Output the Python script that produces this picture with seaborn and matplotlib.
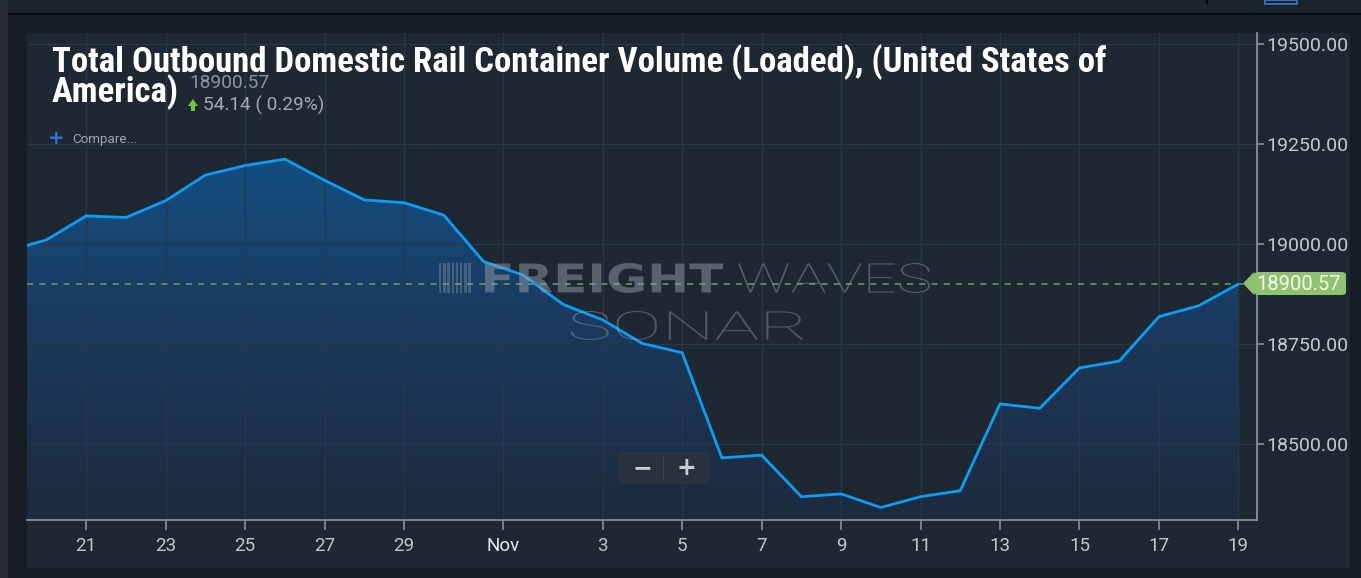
import pandas as pd
import numpy as np
import matplotlib
matplotlib.use("Agg")
import matplotlib.pyplot as plt
import matplotlib.dates as mdates
from matplotlib.colors import LinearSegmentedColormap
from matplotlib.patches import Rectangle, FancyBboxPatch, Polygon, PathPatch
from matplotlib.textpath import TextPath
from matplotlib.font_manager import FontProperties
from matplotlib.transforms import Affine2D
import seaborn as sns

# data (daily, Oct 19 - Nov 19)
dates = pd.date_range("2019-10-19", "2019-11-19", freq="D")
values = [18983, 19011, 19071, 19067, 19109, 19173, 19197, 19213, 19160, 19111,
          19104, 19073, 18957, 18923, 18850, 18811, 18752, 18729, 18466, 18473,
          18369, 18376, 18342, 18369, 18384, 18601, 18590, 18691, 18708, 18819,
          18846.43, 18900.57]
last_value = 18900.57
change = 54.14
change_pct = 0.29

y_ticks = [18500, 18750, 19000, 19250, 19500]
x_tick_dates = pd.to_datetime(["2019-10-21", "2019-10-23", "2019-10-25", "2019-10-27",
                               "2019-10-29", "2019-10-31 12:00", "2019-11-03", "2019-11-05",
                               "2019-11-07", "2019-11-09", "2019-11-11", "2019-11-13",
                               "2019-11-15", "2019-11-17", "2019-11-19"], format="ISO8601")
x_tick_labels = ["21", "23", "25", "27", "29", "Nov", "3", "5", "7", "9", "11", "13",
                 "15", "17", "19"]
title1 = "Total Outbound Domestic Rail Container Volume (Loaded), (United States of"
title2 = "America)"

df = pd.DataFrame({"date": dates, "value": values})

sns.set_style("dark")
plt.rcParams["font.family"] = ["Roboto", "DejaVu Sans"]

W, H = 1361, 578
fig = plt.figure(figsize=(W / 100, H / 100), dpi=100, facecolor="#161d24")


def fx(px):
    return px / W


def fy(py):
    return 1 - py / H


def box(x0, y0, x1, y1, color, z=0, fill=True):
    fig.add_artist(Rectangle((fx(x0), fy(y1)), fx(x1) - fx(x0), fy(y0) - fy(y1),
                             transform=fig.transFigure, facecolor=color if fill else "none",
                             edgecolor="none" if fill else color, zorder=z,
                             lw=0 if fill else 1.2))


# page chrome
box(0, 0, W, 13, "#1a222a")
box(0, 13, W, 14.5, "#05080a")
box(1206, 0, 1207.5, 4, "#05080a", z=1)
box(1265, 0, 1297, 3.5, "#3a7bd5", z=1, fill=False)
box(0, 0, 8, H, "#262b31")
box(27, 33, 1350, 568, "#1e2833")

ax = fig.add_axes([fx(27), fy(520), fx(1257) - fx(27), fy(33) - fy(520)])
ax.set_facecolor("#1e2833")

xlo = pd.Timestamp("2019-10-19 12:15")
xhi = pd.Timestamp("2019-11-19 11:15")
ylo, yhi = 18310.75, 19528.25

# gradient area under the line
poly = ax.fill_between(df["date"], df["value"], ylo - 100, facecolor="none", lw=0)
cmap = LinearSegmentedColormap.from_list(
    "fill", [(0.0, "#1d2a3c"), (0.45, "#1a3c62"), (0.66, "#154a78"), (1.0, "#0f5a93")])
grad = np.linspace(0, 1, 256).reshape(-1, 1)
im = ax.imshow(grad, extent=[mdates.date2num(xlo), mdates.date2num(xhi), ylo, yhi],
               origin="lower", aspect="auto", cmap=cmap, zorder=1)
im.set_clip_path(poly.get_paths()[0], transform=ax.transData)

sns.lineplot(data=df, x="date", y="value", ax=ax, color="#0b9ef6", linewidth=2.0,
             zorder=4)
ax.axhline(last_value, color="#70a05a", lw=1.1, ls=(0, (4, 4)), zorder=3)

ax.set_xlim(xlo, xhi)
ax.set_ylim(ylo, yhi)
ax.set_xlabel("")
ax.set_ylabel("")

ax.set_xticks(x_tick_dates)
ax.set_xticklabels(x_tick_labels)
ax.set_yticks(y_ticks)
ax.set_yticklabels([f"{v:.2f}" for v in y_ticks])
ax.yaxis.tick_right()
ax.grid(True, color="#283846", lw=0.9)
ax.set_axisbelow(False)
for gl in ax.get_xgridlines() + ax.get_ygridlines():
    gl.set_zorder(2)

for s in ["top", "left"]:
    ax.spines[s].set_visible(False)
for s in ["right", "bottom"]:
    ax.spines[s].set_visible(True)
    ax.spines[s].set_color("#8b9096")
    ax.spines[s].set_linewidth(1.3)
    ax.spines[s].set_zorder(5)

ax.tick_params(axis="x", direction="out", length=7, width=1.2, color="#8b9096",
               labelcolor="#c3c7cb", labelsize=13.5, pad=5, bottom=True)
ax.tick_params(axis="y", direction="out", length=5, width=1.2, color="#8b9096",
               labelcolor="#c5c9cd", labelsize=14, pad=1.5, right=True, left=False)
for lab in ax.get_xticklabels():
    if lab.get_text() == "Nov":
        lab.set_color("#e8ebee")

# watermark: each word stretched into its box
wm_color = "#9aa4ad"


def fit_word(word, x0, y0, x1, y1, prop, alpha):
    tp = TextPath((0, 0), word, size=100, prop=prop)
    ext = tp.get_extents()
    tr = (Affine2D().translate(-ext.x0, -ext.y0)
          .scale((x1 - x0) / ext.width, (y1 - y0) / ext.height)
          .translate(x0, H - y1))
    fig.add_artist(PathPatch(tp, transform=tr, facecolor=wm_color, edgecolor="none",
                             alpha=alpha, zorder=6))


fit_word("FREIGHT", 485, 263, 723, 293, FontProperties(family="DejaVu Sans", weight="bold"), 0.47)
fit_word("WAVES", 738, 263, 930, 293, FontProperties(family="Roboto", weight="light"), 0.45)
fit_word("SONAR", 571, 311, 803, 340, FontProperties(family="Roboto", weight="light"), 0.42)
for i in range(8):
    bx = 439 + i * 4.2
    fig.add_artist(Rectangle((fx(bx), fy(293)), fx(2.4), fy(263) - fy(293),
                             transform=fig.transFigure, color=wm_color, alpha=0.35,
                             lw=0, zorder=6))

# zoom buttons
fig.add_artist(FancyBboxPatch((fx(622), fy(482)), fx(84), fy(454) - fy(482),
                              boxstyle="round,pad=0.002,rounding_size=0.004",
                              transform=fig.transFigure, facecolor="#27323d",
                              edgecolor="#2d3843", lw=1, zorder=7))
fig.add_artist(Rectangle((fx(663), fy(480)), fx(1), fy(456) - fy(480),
                         transform=fig.transFigure, color="#3a4652", lw=0, zorder=8))
fig.text(fx(642), fy(468), "\u2212", fontsize=17, weight="bold", color="#c9cdd1",
         ha="center", va="center", zorder=8, family=["DejaVu Sans"])
fig.text(fx(686), fy(468), "+", fontsize=17, weight="bold", color="#c9cdd1",
         ha="center", va="center", zorder=8, family=["DejaVu Sans"])

# last value label
fig.add_artist(Polygon([[fx(1243), fy(283.5)], [fx(1254), fy(272)], [fx(1254), fy(295)]],
                       closed=True, transform=fig.transFigure, color="#8dc26f",
                       lw=0, zorder=8))
fig.add_artist(FancyBboxPatch((fx(1254), fy(295)), fx(92), fy(272) - fy(295),
                              boxstyle="round,pad=0.0,rounding_size=0.004",
                              transform=fig.transFigure, facecolor="#8dc26f",
                              edgecolor="none", zorder=8))
fig.text(fx(1299), fy(284), f"{last_value:.2f}", fontsize=14.5, color="#f4f8f0",
         ha="center", va="center", zorder=9)

# title block
tfam = ["Roboto Condensed", "Liberation Sans Narrow", "Roboto"]
t1 = fig.text(fx(52), fy(72), title1, fontsize=25, weight="bold", color="white",
              va="baseline", family=tfam, zorder=9)
t2 = fig.text(fx(52), fy(102), title2, fontsize=25, weight="bold", color="white",
              va="baseline", family=tfam, zorder=9)
fig.canvas.draw()
w = t1.get_window_extent().width
fs = 25 * 1056 / w
t1.set_fontsize(fs)
t2.set_fontsize(fs)

fig.text(fx(189), fy(88), f"{last_value:.2f}", fontsize=13.8, color="#8c949b",
         va="baseline", zorder=9)
fig.add_artist(Polygon([[fx(188), fy(106)], [fx(193), fy(99)], [fx(198), fy(106)],
                        [fx(195), fy(106)], [fx(195), fy(111)], [fx(191), fy(111)],
                        [fx(191), fy(106)]], closed=True, transform=fig.transFigure,
                       color="#7cc242", lw=0, zorder=9))
fig.text(fx(203), fy(111), f"{change:.2f} ( {change_pct:.2f}%)", fontsize=13.7,
         color="#a3abb2", va="baseline", zorder=9)
fig.text(fx(56), fy(139), "+", fontsize=14, color="#2f73da", ha="center", va="center",
         weight="bold", family=["DejaVu Sans"], zorder=9)
fig.text(fx(72), fy(139), "Compare...", fontsize=9.6, color="#a0a8b0", va="center",
         zorder=9)

fig.savefig("out.png", dpi=100, facecolor=fig.get_facecolor())
